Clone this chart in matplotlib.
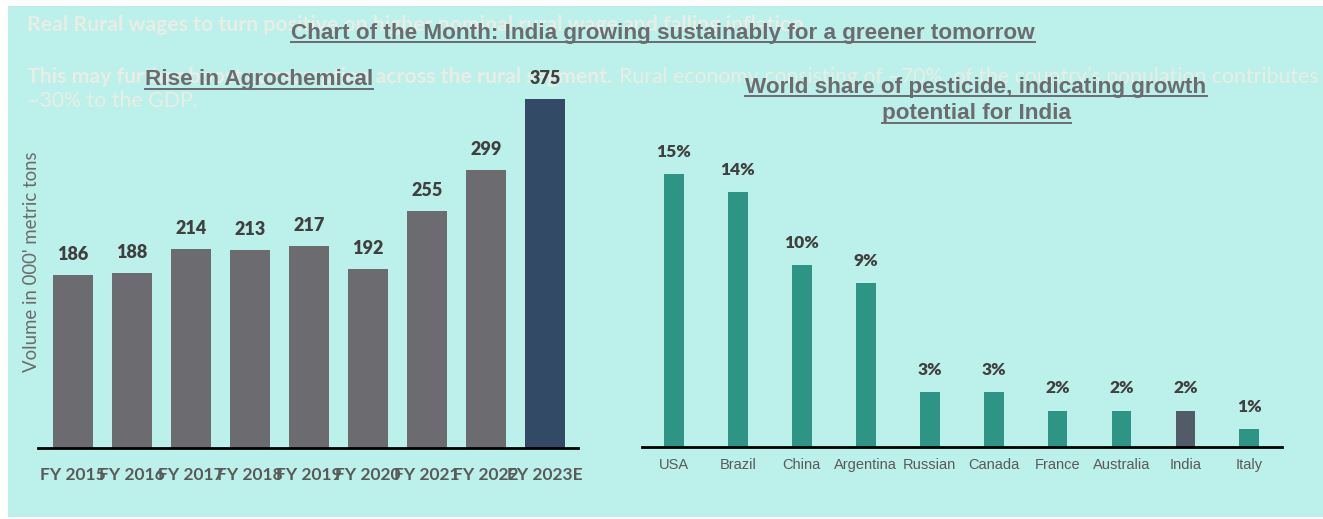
import matplotlib
matplotlib.use("Agg")
import matplotlib.pyplot as plt
from matplotlib.patches import Rectangle
from matplotlib.lines import Line2D

# ---------------- data ----------------
years = ["FY 2015", "FY 2016", "FY 2017", "FY 2018", "FY 2019",
         "FY 2020", "FY 2021", "FY 2022", "FY 2023E"]
volume = [186, 188, 214, 213, 217, 192, 255, 299, 375]

countries = ["USA", "Brazil", "China", "Argentina", "Russian",
             "Canada", "France", "Australia", "India", "Italy"]
share = [15, 14, 10, 9, 3, 3, 2, 2, 2, 1]

# ---------------- style ----------------
BG = "#BCF0EA"
GREY_BAR = "#6B6B70"
DARK_BAR = "#334A66"
TEAL_BAR = "#2E9486"
INDIA_BAR = "#515C68"
TITLE_C = "#6B6B70"
LABEL_C = "#404040"
TICK_C = "#5A5A5A"
GHOST_C = "#E8EEE5"

W, H = 1323, 519
fig = plt.figure(figsize=(W / 100, H / 100), dpi=100)
fig.patch.set_facecolor("white")
# teal panel (behind everything)
fig.patches.append(Rectangle((8 / W, 2 / H), 1 - 8 / W, (H - 8) / H,
                             transform=fig.transFigure, facecolor=BG,
                             edgecolor="none", zorder=-5))

renderer = fig.canvas.get_renderer()


def px(x, y):
    # pixel coords (top-left origin) -> figure fraction
    return x / W, 1 - y / H


def underlined(x, y, s, size, ha="center"):
    t = fig.text(*px(x, y), s, fontsize=size, fontweight="bold",
                 family="Liberation Sans", color=TITLE_C, ha=ha, va="center",
                 zorder=5)
    bb = t.get_window_extent(renderer=renderer)
    inv = fig.transFigure.inverted()
    (x0, y0), (x1, y1) = inv.transform([(bb.x0, bb.y0), (bb.x1, bb.y1)])
    fig.lines.append(Line2D([x0, x1], [y0 + 0.002, y0 + 0.002],
                            transform=fig.transFigure, color=TITLE_C,
                            lw=1.4, zorder=5))
    return t


# ghost text (faded, behind everything else)
GS = 15.3
fig.text(*px(27, 25), "Real Rural wages to turn positive on higher nominal rural wage and falling inflation",
         fontsize=GS, fontweight="bold", family="Lato", color=GHOST_C,
         ha="left", va="center", zorder=-1)
g1 = fig.text(*px(27, 77), "This may further boost consumption across the rural segment.",
              fontsize=GS, fontweight="bold", family="Lato", color=GHOST_C,
              ha="left", va="center", zorder=-1)
bb = g1.get_window_extent(renderer=renderer)
fig.text((bb.x1 + 7) / W, 1 - 77 / H,
         "Rural economy consisting of ~70%  of the country\u2019s population contributes",
         fontsize=GS, family="Lato", color=GHOST_C, ha="left", va="center",
         zorder=-1)
fig.text(*px(27, 101), "~30% to the GDP.", fontsize=GS, family="Lato",
         color=GHOST_C, ha="left", va="center", zorder=-1)

# titles
TS = 16.2
underlined(663, 33, "Chart of the Month: India growing sustainably for a greener tomorrow", TS)
underlined(259, 80, "Rise in Agrochemical", TS)
underlined(976, 87, "World share of pesticide, indicating growth", TS)
underlined(976, 114, "potential for India", TS)

# ---------------- left chart ----------------
ax1 = fig.add_axes([38 / W, 71 / H, 540 / W, 372 / H])
ax1.set_facecolor("none")
x1 = list(range(len(years)))
colors1 = [GREY_BAR] * (len(years) - 1) + [DARK_BAR]
ax1.bar(x1, volume, width=0.68, color=colors1, zorder=2)
ax1.set_xlim(-0.593, 8.56)
ax1.set_ylim(0, 400)
for xi, v in zip(x1, volume):
    ax1.annotate(str(v), (xi, v), xytext=(0, 15), textcoords="offset points",
                 ha="center", va="center", fontsize=13, fontweight="heavy",
                 family="Lato", color=LABEL_C)
ax1.set_xticks(x1)
ax1.set_xticklabels(years, fontsize=12.5, fontweight="bold", family="Lato",
                    color=TICK_C)
ax1.tick_params(axis="x", length=0, pad=14)
ax1.set_yticks([])
for s in ["top", "right", "left"]:
    ax1.spines[s].set_visible(False)
ax1.spines["bottom"].set_linewidth(2)
ax1.spines["bottom"].set_color("black")
fig.text(*px(32, 262), "Volume in 000' metric tons", rotation=90,
         fontsize=13.4, family="Lato", color="#6B6B6B", ha="center",
         va="center")

# ---------------- right chart ----------------
ax2 = fig.add_axes([642 / W, 72 / H, 640 / W, 364 / H])
ax2.set_facecolor("none")
x2 = list(range(len(countries)))
colors2 = [INDIA_BAR if c == "India" else TEAL_BAR for c in countries]
ax2.bar(x2, share, width=0.31, color=colors2, zorder=2)
ax2.set_xlim(-0.5, 9.51)
ax2.set_ylim(0, 20)
for xi, v in zip(x2, share):
    ax2.annotate("%d%%" % v, (xi, v), xytext=(0, 16), textcoords="offset points",
                 ha="center", va="center", fontsize=12.5, fontweight="heavy",
                 family="Lato", color=LABEL_C)
ax2.set_xticks(x2)
ax2.set_xticklabels(countries, fontsize=10.5, family="Liberation Sans",
                    color=TICK_C)
for lbl in ax2.get_xticklabels():
    lbl.set_verticalalignment("baseline")
ax2.tick_params(axis="x", length=0, pad=15.5)
ax2.set_yticks([])
for s in ["top", "right", "left"]:
    ax2.spines[s].set_visible(False)
ax2.spines["bottom"].set_linewidth(2)
ax2.spines["bottom"].set_color("black")

fig.savefig("out.png", dpi=100, facecolor=fig.get_facecolor())
